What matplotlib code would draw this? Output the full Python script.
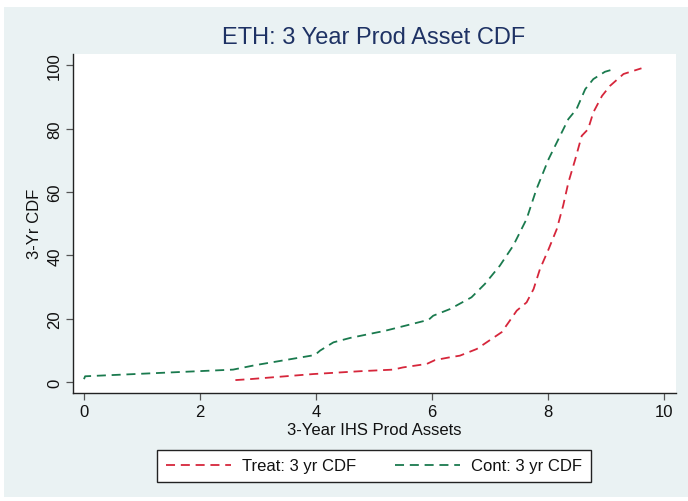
import matplotlib
matplotlib.use('Agg')
import matplotlib.pyplot as plt
from matplotlib.patches import Rectangle

BG = '#eaf2f3'
TITLE_C = '#1e3264'
RED = '#d6263b'
GREEN = '#1a7a4e'

# Treat: 3 yr CDF
treat_x = [2.61, 2.86, 3.95, 4.76, 5.33, 5.50, 5.91, 6.05, 6.31, 6.48, 6.77, 7.20,
           7.32, 7.46, 7.63, 7.75, 7.86, 8.01, 8.15, 8.26, 8.35, 8.47, 8.58, 8.69,
           8.78, 8.93, 9.07, 9.30, 9.61]
treat_y = [0.7, 1.0, 2.6, 3.5, 4.0, 4.7, 5.8, 7.0, 7.9, 8.4, 10.5, 15.8,
           18.9, 22.6, 25.2, 29.4, 35.7, 42.0, 48.3, 55.7, 63.0, 70.4, 77.7, 79.8,
           85.1, 90.3, 93.5, 97.2, 99.0]

# Cont: 3 yr CDF
cont_x = [0.0, 0.02, 2.57, 2.95, 3.98, 4.07, 4.30, 4.59, 5.07, 5.16, 5.94, 6.02,
          6.31, 6.68, 6.91, 7.17, 7.40, 7.63, 7.80, 8.01, 8.15, 8.35, 8.49, 8.64,
          8.78, 8.98, 9.13]
cont_y = [1.0, 1.9, 4.0, 5.4, 8.6, 10.0, 12.6, 14.0, 15.8, 16.1, 19.7, 21.0,
          23.1, 26.8, 31.0, 36.8, 43.1, 51.5, 60.9, 70.4, 75.6, 83.0, 86.1, 92.4,
          95.6, 97.9, 98.7]

plt.rcParams['font.family'] = ['Liberation Sans', 'DejaVu Sans']

fig = plt.figure(figsize=(6.88, 5.02), dpi=100)
fig.patch.set_facecolor('white')
# outer light bluish-gray graph region, leaving a thin white margin
fig.patches.append(Rectangle((4 / 688, 4 / 502), 1 - 4 / 688, 1 - 12 / 502,
                             transform=fig.transFigure, facecolor=BG,
                             edgecolor='none', zorder=-10))

ax = fig.add_axes([73.3 / 688, 1 - 394 / 502, (675.7 - 73.3) / 688, (394 - 54.7) / 502])
ax.set_zorder(2)
ax.set_facecolor('white')
ax.plot(treat_x, treat_y, color=RED, lw=1.3, dashes=(5, 3.2), label='Treat: 3 yr CDF')
ax.plot(cont_x, cont_y, color=GREEN, lw=1.3, dashes=(5, 3.2), label='Cont: 3 yr CDF')

ax.set_xlim(-0.184, 10.2)
ax.set_ylim(-3.37, 103.6)
ax.set_xticks(range(0, 11, 2))
ax.set_yticks(range(0, 101, 20))
for sp in ['top', 'right']:
    ax.spines[sp].set_visible(False)
for sp in ['left', 'bottom']:
    ax.spines[sp].set_color('#222222')
    ax.spines[sp].set_linewidth(1.0)
ax.tick_params(direction='out', length=5, width=0.9, color='#555555',
               labelsize=12, labelcolor='#111111', pad=3)
plt.setp(ax.get_yticklabels(), rotation=90, va='center')

ax.set_xlabel('3-Year IHS Prod Assets', fontsize=12, color='#111111', labelpad=2)
ax.set_ylabel('3-Yr CDF', fontsize=12, color='#111111', labelpad=4)
fig.text(374 / 688, 1 - 38 / 502, 'ETH: 3 Year Prod Asset CDF', fontsize=17,
         color=TITLE_C, ha='center', va='center')

leg = fig.legend(loc='center', bbox_to_anchor=(374 / 688, 1 - 467 / 502), ncol=2,
                 fontsize=12, frameon=True, fancybox=False, handlelength=3.9,
                 handletextpad=0.7, columnspacing=2.3, borderpad=0.5)
leg.set_zorder(3)
leg.get_frame().set_edgecolor('#222222')
leg.get_frame().set_linewidth(1.0)
leg.get_frame().set_facecolor('white')
leg.get_frame().set_alpha(1.0)
for t in leg.get_texts():
    t.set_color('#111111')

fig.savefig('out.png', dpi=100, facecolor='white')
